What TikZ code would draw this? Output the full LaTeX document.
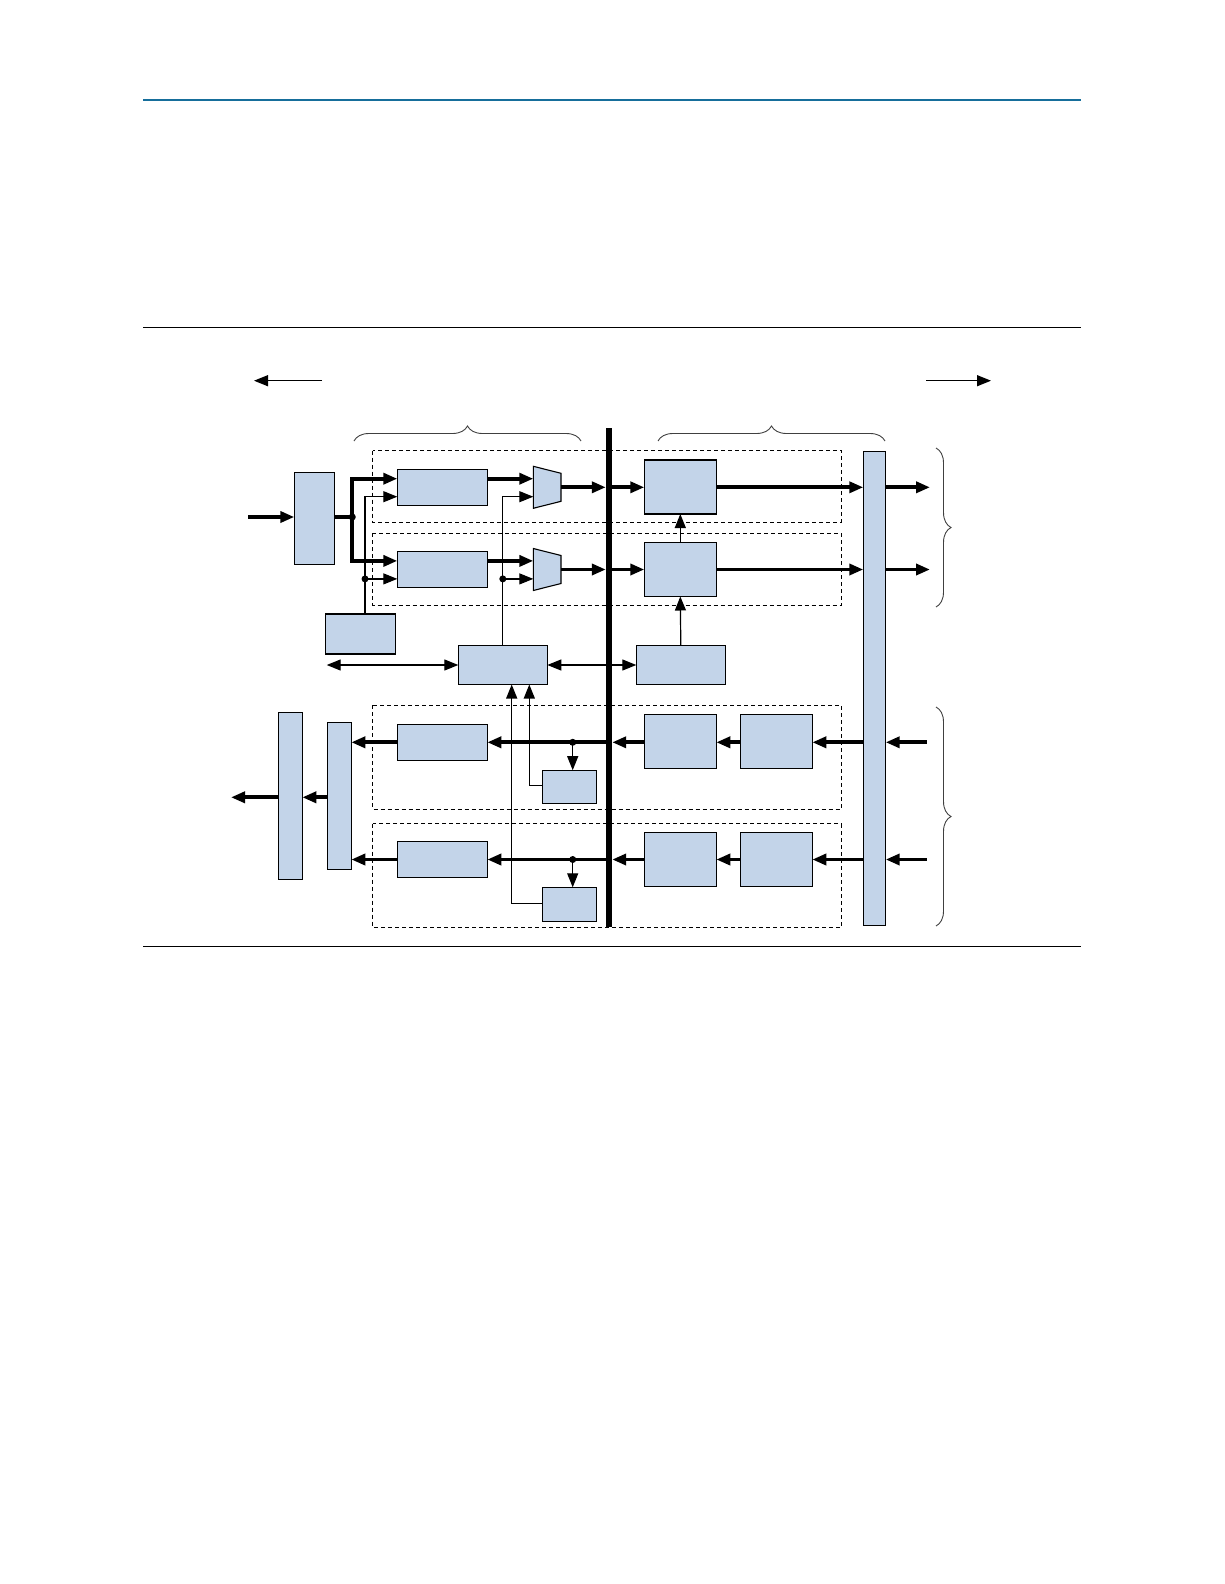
\documentclass[tikz,border=0pt]{standalone}
\usetikzlibrary{arrows.meta,calc,decorations.pathreplacing}
\definecolor{blkfill}{RGB}{195,212,233}
\definecolor{rulebl}{RGB}{22,110,155}

\begin{document}
\begin{tikzpicture}[x=1pt, y=-1pt, line join=miter,
  blk/.style={draw, fill=blkfill, line width=1.1pt, inner sep=0pt, outer sep=0pt},
  thk/.style={line width=3.8pt, -{Triangle[length=14pt,width=11pt]}},
  thkline/.style={line width=3.8pt},
  thn/.style={line width=1.2pt, -{Triangle[length=14pt,width=11pt]}},
  twoway/.style={line width=1.2pt, {Triangle[length=14pt,width=11pt]}-{Triangle[length=14pt,width=11pt]}},
  lane/.style={dashed, dash pattern=on 4pt off 3pt, line width=1pt},
  brc/.style={decorate, decoration={brace, amplitude=15pt}, line width=0.9pt, black!75}]
  \useasboundingbox (0,0) rectangle (1224,1584);

  % Page rules
  \draw[rulebl, line width=2.2pt] (143,100) -- (1081,100);
  \draw[line width=1pt] (143,327) -- (1081,327);
  \draw[line width=1pt] (143,946.5) -- (1081,946.5);

  % Direction arrows
  \coordinate (dirL) at (322,380.7);
  \coordinate (dirR) at (926,380.7);
  \draw[thn] (dirL) -- ++(-68,0);
  \draw[thn] (dirR) -- ++(65,0);

  % Lanes
  \foreach \t/\b in {450.7/522, 533/605, 705/809, 823.7/927.3}
    \draw[lane] (372.7,\t) rectangle (841.3,\b);

  % Braces
  \draw[brc] (354,441) -- (581,441);
  \draw[brc] (658,441) -- (885,441);
  \draw[brc] (936,448) -- (936,607);
  \draw[brc] (936,707) -- (936,926);

  % Central bus
  \node[fill=black, inner sep=0pt, minimum width=6pt, minimum height=499pt] (bus) at (609,677.5) {};

  % Blocks
  \node[blk, minimum width=40pt, minimum height=92pt] (inbox) at (314.3,518.3) {};
  \node[blk, minimum width=90pt, minimum height=36pt] (enc1) at (442.3,487.3) {};
  \node[blk, minimum width=90pt, minimum height=36pt] (enc2) at (442.3,569.5) {};
  \node[blk, minimum width=70pt, minimum height=40pt] (clk) at (360.5,634) {};
  \node[blk, minimum width=89pt, minimum height=39pt] (ctrl) at (502.8,665) {};
  \node[blk, minimum width=72pt, minimum height=54pt] (ser1) at (680.3,487) {};
  \node[blk, minimum width=72pt, minimum height=54pt] (ser2) at (680.3,569.5) {};
  \node[blk, minimum width=89pt, minimum height=39pt] (pll) at (680.8,665) {};
  \node[blk, minimum width=22.4pt, minimum height=474pt] (pins) at (874.5,688.9) {};
  \node[blk, minimum width=24pt, minimum height=167pt] (outbar) at (290.3,795.8) {};
  \node[blk, minimum width=24pt, minimum height=147pt] (inbar) at (339.3,795.8) {};
  \node[blk, minimum width=90pt, minimum height=36pt] (dec1) at (442.3,742.3) {};
  \node[blk, minimum width=90pt, minimum height=36pt] (dec2) at (442.3,859.5) {};
  \node[blk, minimum width=54pt, minimum height=33pt] (chk1) at (569.5,786.7) {};
  \node[blk, minimum width=54pt, minimum height=34pt] (chk2) at (569.5,904.3) {};
  \node[blk, minimum width=72pt, minimum height=54pt] (des1) at (680.3,741.3) {};
  \node[blk, minimum width=72pt, minimum height=54pt] (des2) at (680.3,859.5) {};
  \node[blk, minimum width=72pt, minimum height=54pt] (cdr1) at (776.3,741.3) {};
  \node[blk, minimum width=72pt, minimum height=54pt] (cdr2) at (776.3,859.5) {};

  % Muxes
  \foreach \m/\r in {1/487.3, 2/569.5} {
    \draw[blk] (533.3,\r-21) -- (561,\r-14) -- (561,\r+14) -- (533.3,\r+21) -- cycle;
    \coordinate (mux\m w) at (533.3,\r);
    \coordinate (mux\m e) at (561,\r);
  }

  % Transmit side
  \coordinate (txin) at (248,517);
  \coordinate (split) at (352.3,517);
  \draw[thk] (txin) -- (txin -| inbox.west);
  \draw[thkline] (txin -| inbox.east) -- (split);
  \draw[thk] (split) |- ($(enc1.west)+(0,-8.6)$);
  \draw[thk] (split) |- ($(enc2.west)+(0,-8.6)$);
  \fill (split) circle (3.5pt);

  \draw[thn] ($(clk.north)+(4.5,0)$) |- ($(enc1.west)+(0,9.4)$);
  \coordinate (clkdot) at ($(clk.north)+(4.5,0)$);
  \draw[thn] (clkdot |- {$(enc2.west)+(0,9.4)$}) -- ($(enc2.west)+(0,9.4)$);
  \fill (clkdot |- {$(enc2.west)+(0,9.4)$}) circle (3.5pt);

  \draw[thk] ($(enc1.east)+(0,-8.6)$) -- ($(mux1w)+(0,-8.6)$);
  \draw[thk] ($(enc2.east)+(0,-8.6)$) -- ($(mux2w)+(0,-8.6)$);
  \draw[thn] (ctrl.north) |- ($(mux1w)+(0,9.4)$);
  \draw[thn] (ctrl.north |- {$(mux2w)+(0,9.4)$}) -- ($(mux2w)+(0,9.4)$);
  \fill (ctrl.north |- {$(mux2w)+(0,9.4)$}) circle (3.5pt);

  \foreach \m/\s in {1/ser1, 2/ser2} {
    \draw[thk] (mux\m e) -- (mux\m e -| bus.west);
    \draw[thk] (mux\m e -| bus.east) -- (\s.west |- mux\m e);
    \draw[thk] (\s.east |- mux\m e) -- (pins.west |- mux\m e);
    \draw[thk] (pins.east |- mux\m e) -- (930,0 |- mux\m e);
  }
  \draw[thn] (ser2.north) -- (ser1.south);
  \draw[thn] (pll.north) -- (ser2.south);

  % Control links
  \coordinate (ctlL) at (326.7,665);
  \draw[twoway] (ctlL) -- (ctrl.west);
  \draw[twoway] (ctrl.east) -- (pll.west);

  % Receive side
  \foreach \i/\r in {1/742.3, 2/859.5} {
    \coordinate (rxin\i) at (926.7,\r);
    \coordinate (tap\i) at (572.7,\r);
    \draw[thk] (rxin\i) -- (rxin\i -| pins.east);
    \draw[thk] (rxin\i -| pins.west) -- (cdr\i.east |- rxin\i);
    \draw[thk] (cdr\i.west |- rxin\i) -- (des\i.east |- rxin\i);
    \draw[thk] (des\i.west |- rxin\i) -- (rxin\i -| bus.east);
    \draw[thk] (rxin\i -| bus.west) -- (dec\i.east |- rxin\i);
    \draw[thk] (dec\i.west |- rxin\i) -- (rxin\i -| inbar.east);
    \draw[thn] (tap\i) -- (tap\i |- chk\i.north);
    \fill (tap\i) circle (3.5pt);
  }
  \draw[thn] ($(chk1.west)+(0,-1)$) -| ($(ctrl.south)+(26.5,0)$);
  \draw[thn] ($(chk2.west)+(0,-1)$) -| ($(ctrl.south)+(8.9,0)$);

  \coordinate (rxout) at (231,797.3);
  \draw[thk] (inbar.west |- rxout) -- (outbar.east |- rxout);
  \draw[thk] (outbar.west |- rxout) -- (rxout);
\end{tikzpicture}
\end{document}
